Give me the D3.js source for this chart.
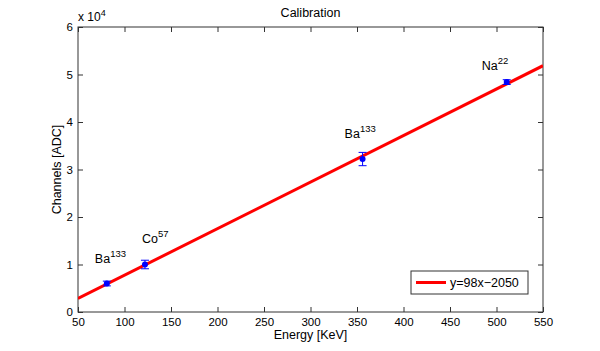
<!DOCTYPE html>
<html><head><meta charset="utf-8">
<script src="https://cdn.jsdelivr.net/npm/d3@7"></script>
<style>body{margin:0;background:#fff}text{font-family:"Liberation Sans",Arial,sans-serif;fill:#000}</style>
</head><body>
<svg id="c" width="600" height="351"></svg>
<script>
const energies = [81, 122, 356, 511];
const channels = [6000, 10000, 32200, 48400];
const errors = [500, 900, 1400, 500];
const isotopes = ["Ba", "Co", "Ba", "Na"];
const massNumbers = ["133", "57", "133", "22"];
const fitSlope = 98, fitIntercept = -2050;
const fitLabel = "y=98x\u22122050";
const xTicks = [50,100,150,200,250,300,350,400,450,500,550];
const yTicks = [0,1,2,3,4,5,6];

const svg = d3.select("#c");
const L=78,R=543,T=27,B=312;
const x = d3.scaleLinear().domain([50,550]).range([L,R]);
const y = d3.scaleLinear().domain([0,60000]).range([B,T]);
const axisColor="#333";

svg.append("rect").attr("x",L).attr("y",T).attr("width",R-L).attr("height",B-T).attr("fill","#fff").attr("stroke",axisColor).attr("stroke-width",1);

const g = svg.append("g");
function styleAxis(sel){sel.select(".domain").remove();sel.selectAll("line").attr("stroke",axisColor);sel.selectAll("text").attr("font-size",11.5).attr("font-family","Liberation Sans, Arial, sans-serif").attr("fill","#000");}
g.append("g").attr("transform",`translate(0,${B})`).call(d3.axisBottom(x).tickValues(xTicks).tickSize(-5).tickPadding(6).tickFormat(d3.format("d"))).call(styleAxis);
g.append("g").attr("transform",`translate(0,${T})`).call(d3.axisTop(x).tickValues(xTicks).tickSize(-5).tickFormat("")).call(styleAxis);
g.append("g").attr("transform",`translate(${L},0)`).call(d3.axisLeft(y).tickValues(yTicks.map(v=>v*1e4)).tickSize(-5).tickPadding(5).tickFormat(d=>d/1e4)).call(styleAxis);
g.append("g").attr("transform",`translate(${R},0)`).call(d3.axisRight(y).tickValues(yTicks.map(v=>v*1e4)).tickSize(-5).tickFormat("")).call(styleAxis);

const ex = svg.append("text").attr("x",L).attr("y",T-6).attr("font-size",12);
ex.append("tspan").text("x 10");
ex.append("tspan").attr("font-size",9).attr("dy",-5).text("4");

svg.append("clipPath").attr("id","clip").append("rect").attr("x",L).attr("y",T).attr("width",R-L).attr("height",B-T);
const fx=[50,550];
svg.append("line").attr("clip-path","url(#clip)")
 .attr("x1",x(fx[0])).attr("y1",y(fitSlope*fx[0]+fitIntercept))
 .attr("x2",x(fx[1])).attr("y2",y(fitSlope*fx[1]+fitIntercept))
 .attr("stroke","#ff0000").attr("stroke-width",3);

const eb = svg.append("g").attr("stroke","#0000ff").attr("stroke-width",1);
energies.forEach((e,i)=>{
  const cx=x(e), y1=y(channels[i]-errors[i]), y2=y(channels[i]+errors[i]);
  eb.append("line").attr("x1",cx).attr("x2",cx).attr("y1",y1).attr("y2",y2);
  eb.append("line").attr("x1",cx-4).attr("x2",cx+4).attr("y1",y1).attr("y2",y1);
  eb.append("line").attr("x1",cx-4).attr("x2",cx+4).attr("y1",y2).attr("y2",y2);
});
svg.append("g").selectAll("circle").data(energies).join("circle")
 .attr("cx",d=>x(d)).attr("cy",(d,i)=>y(channels[i])).attr("r",3).attr("fill","#0000ff");

const labelOffset=[[-12,21],[-3,22],[-18,21],[-25,12]];
energies.forEach((e,i)=>{
  const t=svg.append("text").attr("font-size",12.5)
   .attr("x",x(e)+labelOffset[i][0]).attr("y",y(channels[i])-labelOffset[i][1]);
  t.append("tspan").text(isotopes[i]);
  t.append("tspan").attr("font-size",9.5).attr("dy",-6).text(massNumbers[i]);
});

svg.append("text").attr("x",(L+R)/2).attr("y",17).attr("text-anchor","middle").attr("font-size",12.5).text("Calibration");
svg.append("text").attr("x",(L+R)/2).attr("y",339).attr("text-anchor","middle").attr("font-size",12.5).text("Energy [KeV]");
svg.append("text").attr("transform",`translate(61,${(T+B)/2}) rotate(-90)`).attr("text-anchor","middle").attr("font-size",12.5).text("Channels [ADC]");

const lg=svg.append("g");
lg.append("rect").attr("x",411).attr("y",271).attr("width",117).attr("height",23).attr("fill","#fff").attr("stroke",axisColor);
lg.append("line").attr("x1",416).attr("x2",446).attr("y1",282.5).attr("y2",282.5).attr("stroke","#ff0000").attr("stroke-width",3);
lg.append("text").attr("x",450).attr("y",287).attr("font-size",12.5).text(fitLabel);
</script>
</body></html>
